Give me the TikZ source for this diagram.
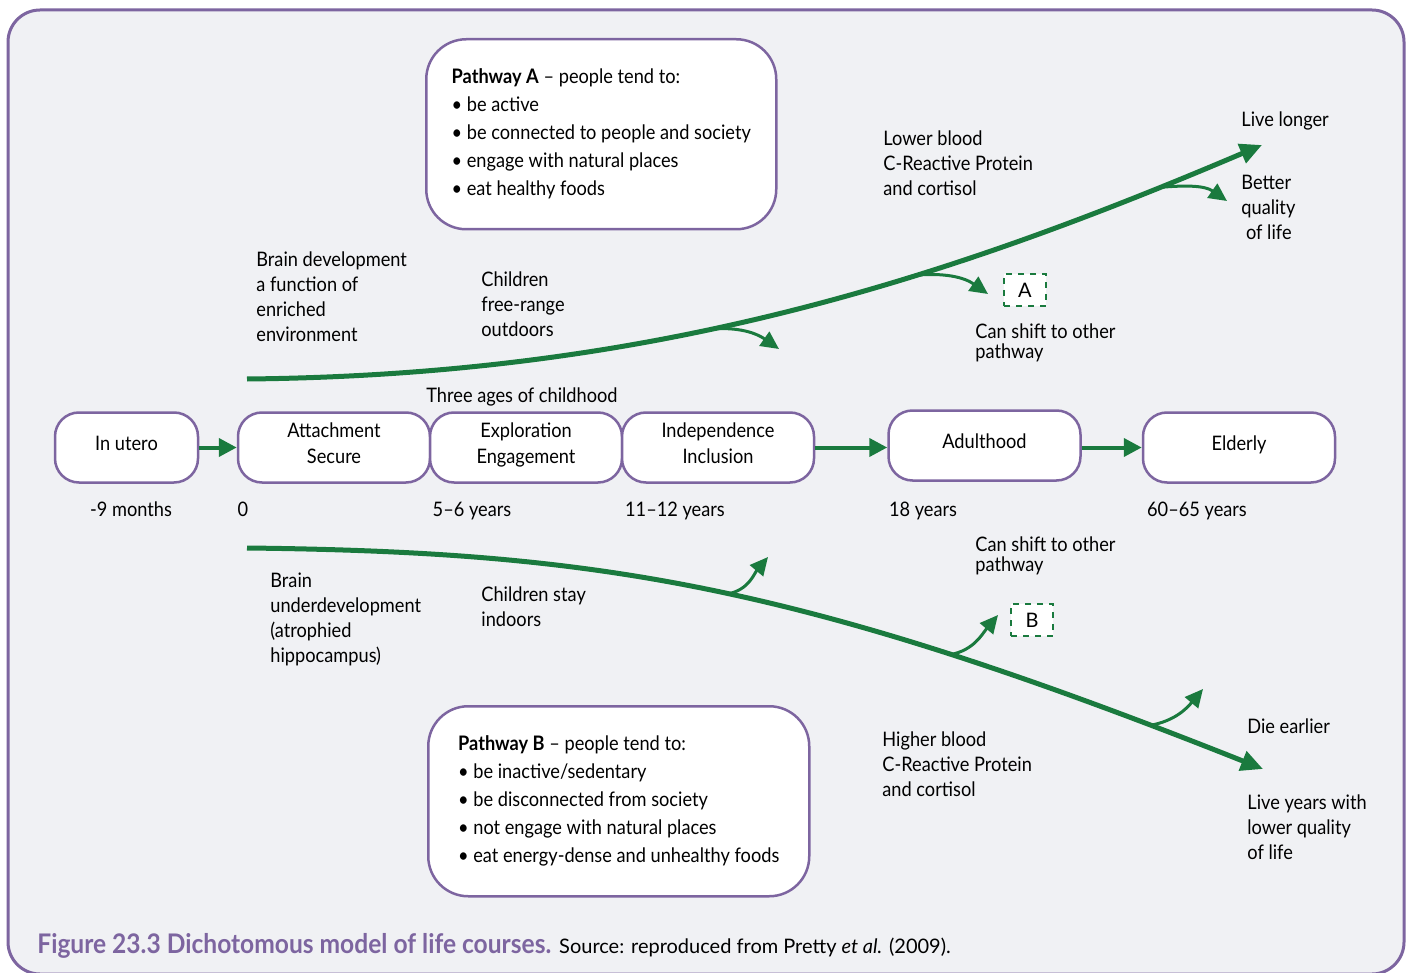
\documentclass[tikz,border=0pt]{standalone}
\usepackage{fontspec}
\setmainfont{Lato}[FakeStretch=0.91]
\newfontfamily\srcfont{Lato}
\usetikzlibrary{arrows.meta,positioning}

\definecolor{lifegreen}{HTML}{1A7A3E}
\definecolor{lifepurple}{HTML}{7D65A0}
\definecolor{panelgray}{HTML}{F0F1F4}

\tikzset{
    stage/.style={draw=lifepurple, line width=1.25pt, fill=white, rounded corners=12pt,
        minimum width=96pt, minimum height=35pt, align=center, inner sep=2pt,
        text depth=4pt, font=\fontsize{10}{13}\selectfont},
    pathbox/.style={draw=lifepurple, line width=1.25pt, fill=white, rounded corners=20pt,
        align=left, anchor=north west, inner xsep=9pt, minimum height=95pt,
        font=\fontsize{10}{14}\selectfont},
    note/.style={align=left, anchor=north west, inner sep=0pt},
    age/.style={anchor=base, inner sep=0pt},
    route/.style={lifegreen, line width=2.5pt, -{Triangle[length=11pt,width=10pt]}},
    branch/.style={lifegreen, line width=1.5pt, -{Triangle[length=9pt,width=8.5pt]}},
    flow/.style={lifegreen, line width=2pt, -{Triangle[length=9pt,width=9pt]}},
    shiftbox/.style={draw=lifegreen, dashed, line width=1.25pt, fill=white,
        minimum width=21pt, minimum height=16pt, inner sep=0pt},
}

\begin{document}
\begin{tikzpicture}[x=0.5pt, y=-0.5pt, font=\fontsize{10}{12.5}\selectfont]
    \useasboundingbox (0,0) rectangle (1408,973);
    \clip (0,0) rectangle (1408,973);
    \fill[white] (0,0) rectangle (1408,973);
    \draw[lifepurple, line width=1.5pt, fill=panelgray, rounded corners=16pt]
        (8,10) rectangle (1404,974);

    % life stages
    \node[stage, minimum width=71.5pt] (utero) at (126.5,447.5) {In utero};
    \node[stage] (attach) at (334,447.5) {Attachment\\Secure};
    \node[stage, right=-1.25pt of attach] (explore) {Exploration\\Engagement};
    \node[stage, right=-1.25pt of explore] (indep) {Independence\\Inclusion};
    \node[stage] (adult) at (984.5,445.5) {Adulthood};
    \node[stage] (elder) at (1239,447.5) {Elderly};

    \draw[flow] (utero) -- (attach);
    \draw[flow] (indep.east) -- (adult.west |- indep.east);
    \draw[flow] (adult.east |- elder.west) -- (elder.west);

    \node[age] (ageutero) at (131,516) {-9 months};
    \node[age] (agezero) at (243,516) {0};
    \node[age] (agefive) at (472,516) {5--6 years};
    \node[age] (ageeleven) at (675,516) {11--12 years};
    \node[age] (ageadult) at (923,516) {18 years};
    \node[age] (ageelder) at (1197,516) {60--65 years};
    \node[age] (childhood) at (522,402) {Three ages of childhood};

    % pathway boxes
    \node[pathbox, minimum width=175pt] (boxA) at (425,38) {%
        \textbf{Pathway A} -- people tend to:\\
        \textbullet\ be active\\
        \textbullet\ be connected to people and society\\
        \textbullet\ engage with natural places\\
        \textbullet\ eat healthy foods};
    \node[pathbox, minimum width=190.5pt] (boxB) at (427,705) {%
        \textbf{Pathway B} -- people tend to:\\
        \textbullet\ be inactive/sedentary\\
        \textbullet\ be disconnected from society\\
        \textbullet\ not engage with natural places\\
        \textbullet\ eat energy-dense and unhealthy foods};

    % pathway A (upper)
    \coordinate (upstart) at (247,379);
    \coordinate (upend) at (1262,145);
    \coordinate (uptipa) at (779,349);
    \coordinate (uptipb) at (988,294);
    \coordinate (uptipc) at (1227,201);
    \draw[route] (upstart) .. controls (650,375) and (940,282) .. (upend)
        coordinate[pos=0.425] (upa) coordinate[pos=0.635] (upb) coordinate[pos=0.893] (upc);
    \draw[branch] (upa) to[out=5, in=145] (uptipa);
    \draw[branch] (upb) to[out=5, in=145] (uptipb);
    \draw[branch] (upc) to[out=5, in=145] (uptipc);

    % pathway B (lower)
    \coordinate (lowstart) at (247,548);
    \coordinate (lowend) at (1263,769);
    \coordinate (lowtipa) at (768,557);
    \coordinate (lowtipb) at (998,615);
    \coordinate (lowtipc) at (1203,689);
    \draw[route] (lowstart) .. controls (600,552) and (800,585) .. (lowend)
        coordinate[pos=0.515] (lowa) coordinate[pos=0.742] (lowb) coordinate[pos=0.915] (lowc);
    \draw[branch] (lowa) to[out=10, in=230] (lowtipa);
    \draw[branch] (lowb) to[out=10, in=230] (lowtipb);
    \draw[branch] (lowc) to[out=10, in=230] (lowtipc);

    \node[shiftbox] (shiftA) at (1025,290) {\srcfont A};
    \node[shiftbox] (shiftB) at (1032,620) {\srcfont B};

    % notes, upper half
    \node[note] (brainup) at (256,251) {Brain development\\a function of\\enriched\\environment};
    \node[note] (freerange) at (481,271) {Children\\free-range\\outdoors};
    \node[note] (lowerblood) at (883,130) {Lower blood\\C-Reactive Protein\\and cortisol};
    \node[note] (livelonger) at (1241,111) {Live longer};
    \node[note] (better) at (1241,175) {Better\\quality\\\ of life};
    \node[note, font=\fontsize{10}{10}\selectfont] (shiftupnote) at (975,323) {Can shift to other\\pathway};

    % notes, lower half
    \node[note, font=\fontsize{10}{10}\selectfont] (shiftlownote) at (975,536) {Can shift to other\\pathway};
    \node[note] (braindown) at (270,573) {Brain\\underdevelopment\\(atrophied\\hippocampus)};
    \node[note] (indoors) at (481,586) {Children stay\\indoors};
    \node[note] (higherblood) at (882,731) {Higher blood\\C-Reactive Protein\\and cortisol};
    \node[note] (dieearlier) at (1247,718) {Die earlier};
    \node[note] (livelower) at (1247,794) {Live years with\\lower quality\\of life};

    % caption
    \node[anchor=base west, inner sep=0pt] (caption) at (37,953)
        {{\fontsize{13.5}{14}\selectfont\bfseries\color{lifepurple}Figure 23.3 Dichotomous model of life courses.}\hspace{4pt}%
         {\srcfont\fontsize{10}{11}\selectfont Source: reproduced from Pretty \textit{et al.} (2009).}};
\end{tikzpicture}
\end{document}
